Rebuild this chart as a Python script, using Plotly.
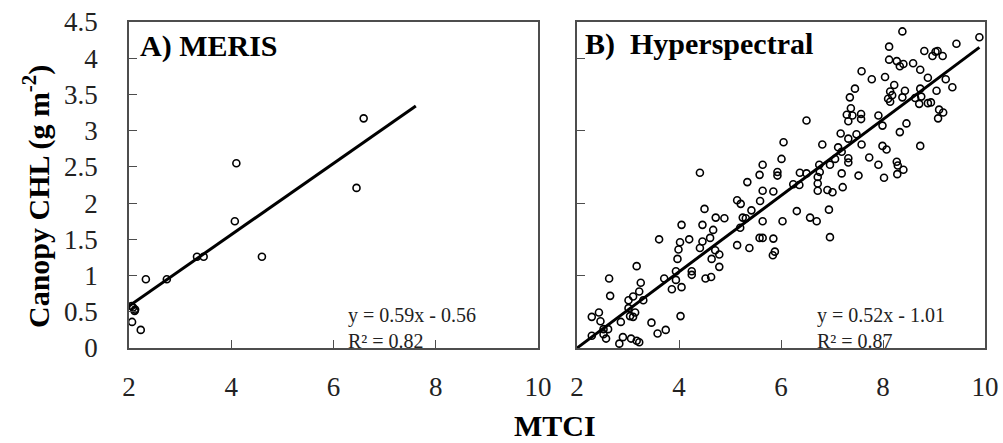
import plotly.graph_objects as go

# ---------------- data ----------------
meris_mtci = [6.59, 4.10, 6.45, 4.07, 4.60, 3.33, 3.46, 2.33, 2.74, 2.08, 2.05, 2.12, 2.11, 2.06, 2.23]
meris_chl = [3.17, 2.55, 2.21, 1.75, 1.26, 1.26, 1.26, 0.95, 0.95, 0.56, 0.58, 0.53, 0.51, 0.36, 0.25]
meris_fit_x = [2.0, 7.61]
meris_fit_y = [0.58, 3.34]

hyper_mtci = [
    8.38, 9.89, 8.12, 9.44, 8.81, 9.03, 9.07, 8.97, 9.17, 8.12, 8.27, 8.33, 8.40, 8.59, 8.73, 7.58,
    7.78, 8.04, 8.88, 9.23, 8.22, 9.36, 7.45, 8.73, 9.05, 8.14, 8.43, 8.18, 8.10, 8.14, 8.38, 8.63,
    8.75, 8.71, 8.88, 8.94, 7.35, 7.37, 7.29, 7.40, 7.57, 7.57, 7.91, 7.32, 9.10, 9.18, 9.08, 6.50,
    8.46, 7.99, 7.17, 7.48, 7.32, 8.33, 6.05, 6.81, 7.12, 7.58, 7.99, 8.07, 8.73, 7.19, 7.32, 7.32,
    7.73, 6.01, 5.64, 7.06, 7.91, 8.27, 8.29, 6.75, 6.96,
    4.41, 5.58, 5.93, 5.93, 6.37, 6.50, 6.72, 6.76, 7.19, 7.52, 8.02, 8.28, 8.40, 5.34, 6.24, 6.36,
    6.72, 6.72, 6.91, 7.01, 7.21, 5.64, 5.85, 5.14, 5.21, 5.59, 5.42, 6.31, 6.94, 4.50, 4.72, 4.89,
    5.25, 5.31, 5.64, 6.03, 6.57, 6.70, 4.05, 4.46, 4.67, 5.20, 3.61, 4.02, 4.20, 4.46, 4.61, 4.41,
    3.99, 4.71, 4.79, 5.14, 5.38, 5.58, 5.64, 5.85, 5.88, 5.84, 6.96, 3.97, 4.64, 4.79, 3.17, 2.63,
    3.94, 3.71, 4.25, 4.25, 4.52, 4.63, 3.25, 3.94, 3.86, 4.05, 2.65, 3.01, 3.10, 3.22, 3.30, 3.01,
    3.14, 3.04, 3.10, 2.29, 2.43, 2.46, 2.86, 3.46, 4.03, 2.52, 2.61, 2.29, 2.52, 2.57, 2.90, 3.06,
    3.17, 3.22, 2.83, 3.58, 3.74,
]
hyper_chl = [
    4.37, 4.29, 4.16, 4.20, 4.10, 4.09, 4.10, 4.03, 4.03, 3.98, 3.96, 3.89, 3.92, 3.93, 3.84, 3.82,
    3.71, 3.74, 3.73, 3.71, 3.63, 3.60, 3.58, 3.58, 3.55, 3.54, 3.55, 3.49, 3.44, 3.40, 3.46, 3.45,
    3.47, 3.37, 3.38, 3.39, 3.46, 3.31, 3.22, 3.21, 3.23, 3.16, 3.21, 3.13, 3.29, 3.25, 3.17, 3.14,
    3.10, 3.07, 2.96, 2.95, 2.89, 2.98, 2.84, 2.81, 2.77, 2.81, 2.79, 2.74, 2.79, 2.71, 2.62, 2.56,
    2.63, 2.61, 2.53, 2.61, 2.53, 2.57, 2.52, 2.53, 2.53,
    2.42, 2.39, 2.43, 2.38, 2.42, 2.41, 2.36, 2.43, 2.41, 2.38, 2.35, 2.40, 2.46, 2.29, 2.26, 2.25,
    2.27, 2.17, 2.18, 2.15, 2.22, 2.17, 2.16, 2.04, 1.99, 2.03, 1.90, 1.89, 1.91, 1.92, 1.80, 1.79,
    1.80, 1.79, 1.75, 1.75, 1.80, 1.75, 1.70, 1.70, 1.63, 1.66, 1.50, 1.46, 1.50, 1.47, 1.52, 1.38,
    1.36, 1.35, 1.29, 1.42, 1.38, 1.52, 1.52, 1.51, 1.33, 1.28, 1.53, 1.23, 1.23, 1.12, 1.13, 0.96,
    1.06, 0.96, 1.06, 1.01, 0.96, 0.98, 0.90, 0.94, 0.81, 0.84, 0.72, 0.66, 0.71, 0.78, 0.66, 0.55,
    0.49, 0.44, 0.43, 0.43, 0.49, 0.37, 0.36, 0.35, 0.44, 0.26, 0.26, 0.17, 0.19, 0.13, 0.15, 0.13,
    0.10, 0.08, 0.06, 0.20, 0.25,
]
hyper_fit_x = [2.0, 9.89]
hyper_fit_y = [0.0, 4.15]

x_ticks = [2, 4, 6, 8, 10]
y_ticks_left = [0, 0.5, 1, 1.5, 2, 2.5, 3, 3.5, 4, 4.5]
y_ticktext_left = ["0", "0.5", "1", "1.5", "2", "2.5", "3", "3.5", "4", "4.5"]
y_ticks_right = [1, 2, 3, 4]

panel_titles = ["A) MERIS", "B)  Hyperspectral"]
eq_text_left = "y = 0.59x - 0.56<br>R² = 0.82"
eq_text_right = "y = 0.52x - 1.01<br>R² = 0.87"
y_title = "Canopy CHL (g m<sup>-2</sup>)"
x_title = "MTCI"

# ---------------- figure ----------------
W, H = 1003, 443
FONT = "Liberation Serif, Times New Roman, serif"
FRAME = "#4d4d4d"


def px(x):
    return x / W


def py(y):
    return (H - y) / H


fig = go.Figure()
marker = dict(symbol="circle-open", size=7, color="black", line=dict(width=1.6, color="black"))

fig.add_trace(go.Scatter(x=meris_mtci, y=meris_chl, mode="markers", marker=marker,
                         xaxis="x", yaxis="y", showlegend=False))
fig.add_trace(go.Scatter(x=meris_fit_x, y=meris_fit_y, mode="lines",
                         line=dict(color="black", width=3), xaxis="x", yaxis="y", showlegend=False))
fig.add_trace(go.Scatter(x=hyper_mtci, y=hyper_chl, mode="markers", marker=marker,
                         xaxis="x2", yaxis="y2", showlegend=False))
fig.add_trace(go.Scatter(x=hyper_fit_x, y=hyper_fit_y, mode="lines",
                         line=dict(color="black", width=3), xaxis="x2", yaxis="y2", showlegend=False))

ydom = [py(348), py(22)]
axis_common = dict(showline=True, mirror=True, linecolor=FRAME, linewidth=1.6,
                   ticks="inside", ticklen=8, tickwidth=1.4, tickcolor=FRAME,
                   showgrid=False, zeroline=False, automargin=False,
                   tickfont=dict(family=FONT, size=27, color="#222"))

fig.update_layout(
    width=W, height=H,
    margin=dict(l=0, r=0, t=0, b=0, autoexpand=False),
    paper_bgcolor="white", plot_bgcolor="white",
    xaxis=dict(domain=[px(129), px(538)], range=[2, 10], tickvals=x_ticks,
               anchor="y", ticklabelstandoff=14, **axis_common),
    yaxis=dict(domain=ydom, range=[0, 4.5], tickvals=y_ticks_left, ticktext=y_ticktext_left,
               anchor="x", ticklabelstandoff=24, **axis_common),
    xaxis2=dict(domain=[px(577), px(985)], range=[2, 10], tickvals=x_ticks,
                anchor="y2", ticklabelstandoff=14, **axis_common),
    yaxis2=dict(domain=ydom, range=[0, 4.5], tickvals=y_ticks_right, showticklabels=False,
                anchor="x2", **axis_common),
)

annots = []
annots.append(dict(text="<b>%s</b>" % panel_titles[0], x=px(138), y=py(46), xanchor="left", yanchor="middle"))
annots.append(dict(text="<b>%s</b>" % panel_titles[1], x=px(583), y=py(44), xanchor="left", yanchor="middle"))
for a in annots:
    a.update(xref="paper", yref="paper", showarrow=False,
             font=dict(family=FONT, size=30, color="black"))

for t, xx in [(eq_text_left, 346), (eq_text_right, 815)]:
    annots.append(dict(text=t, x=px(xx), y=py(328), xref="paper", yref="paper",
                       xanchor="left", yanchor="middle", align="left", showarrow=False,
                       font=dict(family=FONT, size=20, color="#222")))

annots.append(dict(text="<b>%s</b>" % x_title, x=px(555), y=0.0, xref="paper", yref="paper",
                   xanchor="center", yanchor="bottom", borderpad=0, showarrow=False,
                   font=dict(family=FONT, size=30, color="black")))
annots.append(dict(text="<b>%s</b>" % y_title, x=px(36), y=py(197), xref="paper", yref="paper",
                   xanchor="center", yanchor="middle", showarrow=False, textangle=-90,
                   font=dict(family=FONT, size=30, color="black")))
fig.update_layout(annotations=annots)

fig.write_html("out.html", config={"displayModeBar": False},
               post_script="document.body.style.margin='0';document.body.style.overflow='hidden';")
